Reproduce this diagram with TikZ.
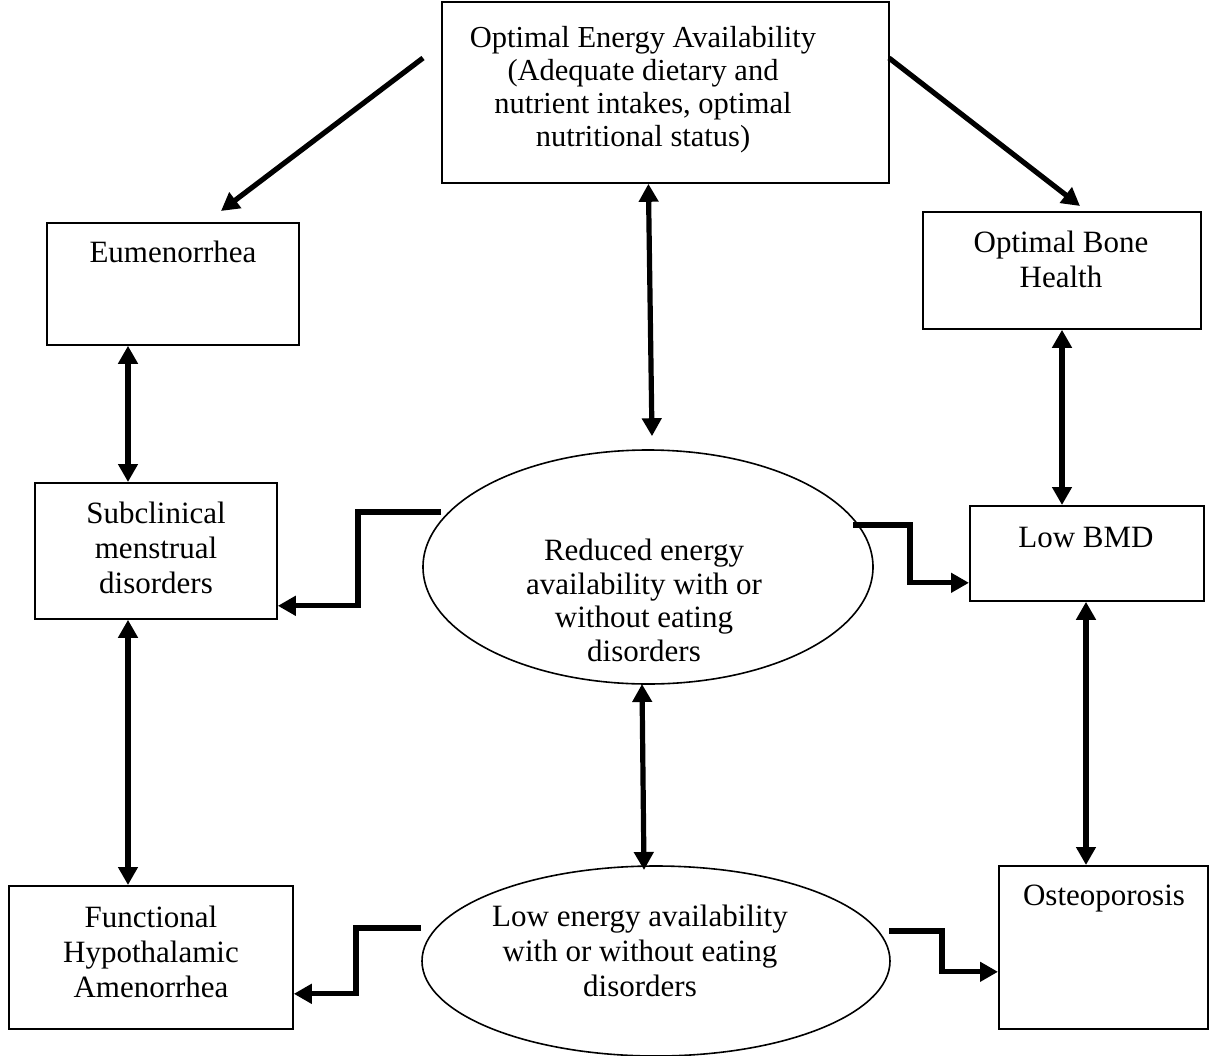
\documentclass[tikz,border=0pt]{standalone}
\usepackage{fontspec}
\setmainfont{Liberation Serif}
\usetikzlibrary{arrows.meta,shapes.geometric,calc}
\begin{document}
\begin{tikzpicture}[x=1pt,y=-1pt,
  box/.style={draw,line width=1.8pt,inner sep=0pt,anchor=north west},
  oval/.style={draw,ellipse,line width=1.6pt,inner sep=0pt},
  txt/.style={anchor=north,align=center,inner sep=0pt,font=\fontsize{31}{35}\selectfont},
  arr/.style={line width=5.2pt,-{Triangle[length=18pt,width=19pt]}},
  darr/.style={line width=5.2pt,{Triangle[length=18pt,width=19pt]}-{Triangle[length=18pt,width=19pt]}}]
\useasboundingbox (0,0) rectangle (1218,1055);

% boxes
\node[box,minimum width=447pt,minimum height=181pt] (top) at (441,1) {};
\node[box,minimum width=252pt,minimum height=122pt] (eum) at (46,222) {};
\node[box,minimum width=278pt,minimum height=117pt] (obh) at (922,211) {};
\node[box,minimum width=242pt,minimum height=136pt] (sub) at (34,482) {};
\node[box,minimum width=234pt,minimum height=95pt] (low) at (969,505) {};
\node[box,minimum width=284pt,minimum height=143pt] (fha) at (8,885) {};
\node[box,minimum width=209pt,minimum height=163pt] (ost) at (998,865) {};
\node[oval,minimum width=450pt,minimum height=234pt] (e1) at (648,567) {};
\node[oval,minimum width=468pt,minimum height=190pt] (e2) at (656,961) {};

% texts
\node[txt,font=\fontsize{30.5}{33}\selectfont] (toptxt) at (643,26) {Optimal Energy Availability\\(Adequate dietary and\\nutrient intakes, optimal\\nutritional status)};
\node[txt] (eumtxt) at (173,241) {Eumenorrhea};
\node[txt] (obhtxt) at (1061,231) {Optimal Bone\\Health};
\node[txt] (subtxt) at (156,502) {Subclinical\\menstrual\\disorders};
\node[txt] (lowtxt) at (1086,527) {Low BMD};
\node[txt] (fhatxt) at (151,906) {Functional\\Hypothalamic\\Amenorrhea};
\node[txt] (osttxt) at (1104,885) {Osteoporosis};
\node[txt,font=\fontsize{31}{33.5}\selectfont] (e1txt) at (644,539) {Reduced energy\\availability with or\\without eating\\disorders};
\node[txt] (e2txt) at (640,905) {Low energy availability\\with or without eating\\disorders};

% free ends
\coordinate (tl) at (423,58);
\coordinate (tlend) at (221,211);
\coordinate (tr) at (889,58);
\coordinate (trend) at (1080,206);
\coordinate (xl) at (128,0);
\coordinate (xr) at (1062,0);
\coordinate (xr2) at (1086,0);
\coordinate (e1w) at (441,512);
\coordinate (e1e) at (853,525);
\coordinate (e2w) at (421,928);
\coordinate (e2e) at (889,931);
\coordinate (e1b) at (642,684);
\coordinate (e2t) at (644,870);

% connectors
\draw[arr] (tl) -- (tlend);
\draw[arr] (tr) -- (trend);
\draw[darr] ($(top.south)+(-17,0)$) -- ($(e1.north)+(4,-13)$);
\draw[darr] (eum.south -| xl) -- (sub.north -| xl);
\draw[darr] (sub.south -| xl) -- (fha.north -| xl);
\draw[darr] (obh.south -| xr) -- (low.north -| xr);
\draw[darr] (low.south -| xr2) -- (ost.north -| xr2);
\draw[darr] (e1b) -- (e2t);
\draw[arr] (e1w) -- (358,512) |- ($(sub.south east)+(0,-14)$);
\draw[arr] (e1e) -- (910,525) |- ($(low.south west)+(0,-19)$);
\draw[arr] (e2w) -- (356,928) |- ($(fha.south east)+(0,-36)$);
\draw[arr] (e2e) -- (942,931) |- ($(ost.south west)+(0,-58)$);
\end{tikzpicture}
\end{document}
